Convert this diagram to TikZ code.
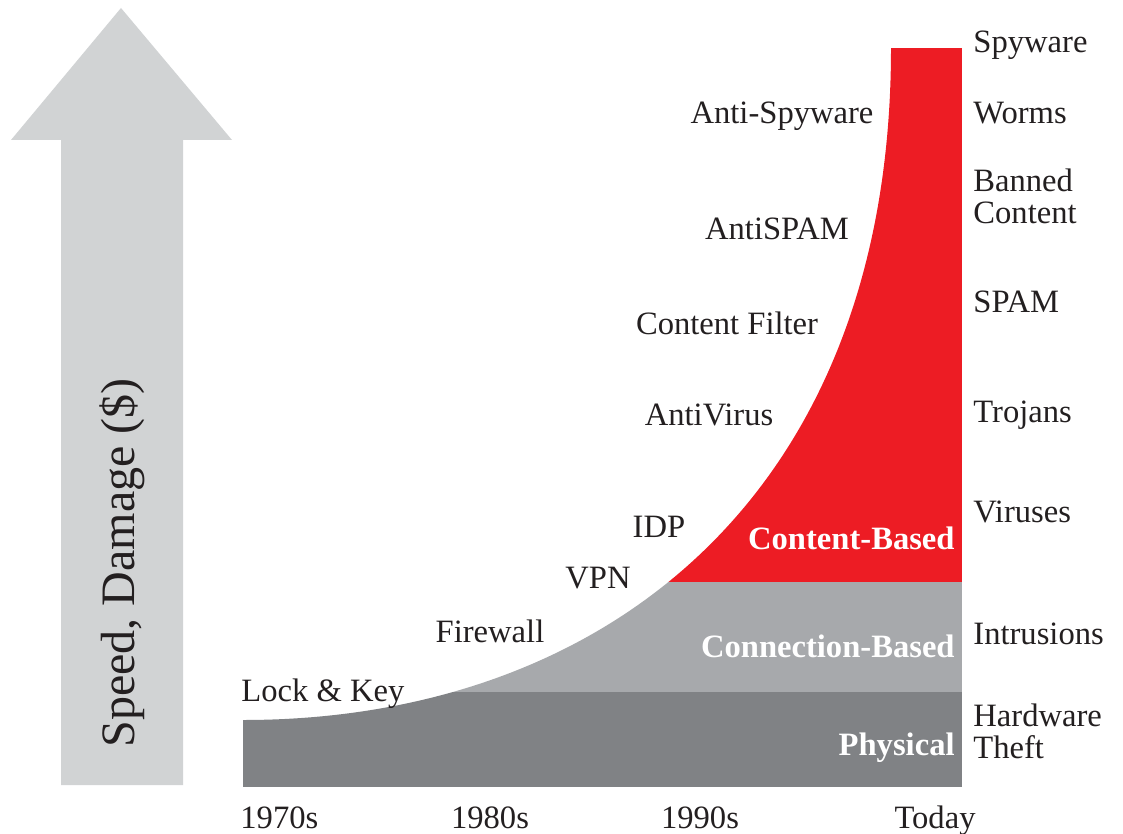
\documentclass[tikz,border=0pt]{standalone}
\usepackage{fontspec}
\setmainfont{Liberation Serif}
\usetikzlibrary{positioning}

\definecolor{threatred}{HTML}{ED1C24}
\definecolor{connectgray}{HTML}{A7A9AC}
\definecolor{physgray}{HTML}{808285}
\definecolor{arrowgray}{HTML}{D1D3D4}
\definecolor{inktext}{HTML}{231F20}

\begin{document}
\begin{tikzpicture}[x=0.5pt,y=-0.5pt,
		lbl/.style={text=inktext, font=\fontsize{16.3}{19}\selectfont, inner sep=0pt, text height=10.8pt, text depth=0pt},
		threat/.style={lbl, anchor=west},
		defense/.style={lbl, anchor=center},
		layer/.style={lbl, text=white, font=\bfseries\fontsize{16.3}{19}\selectfont, anchor=east}]
	\useasboundingbox (0,0) rectangle (1123,834);

	% axis arrow
	\fill[arrowgray] (61,785) -- (61,140) -- (11,140) -- (121,8) -- (232,140) -- (183,140) -- (183,785) -- cycle;
	\node[rotate=90, text=inktext, font=\fontsize{24}{24}\selectfont] (axis) at (122,563) {Speed, Damage (\$)};

	% layers under the curve
	\begin{scope}
		\clip (243,787) -- (243,720) .. controls (600,720) and (891,500) .. (891,48) -- (962,48) -- (962,787) -- cycle;
		\fill[threatred] (243,48) rectangle (962,582);
		\fill[connectgray] (243,582) rectangle (962,692);
		\fill[physgray] (243,692) rectangle (962,787);
	\end{scope}

	\node[layer] (content) at (955,539) {Content-Based};
	\node[layer] (connection) at (955,647) {Connection-Based};
	\node[layer] (physical) at (955,745) {Physical};

	% defenses along the curve
	\node[lbl, anchor=west] (lockkey) at (241,691) {Lock \& Key};
	\node[defense] (firewall) at (490,632) {Firewall};
	\node[defense] (vpn) at (598,578) {VPN};
	\node[defense] (idp) at (659,527) {IDP};
	\node[defense] (antivirus) at (709,415) {AntiVirus};
	\node[defense] (filter) at (727,324) {Content Filter};
	\node[defense] (antispam) at (777,229) {AntiSPAM};
	\node[defense] (antispy) at (782,113) {Anti-Spyware};

	% threats on the right
	\node[threat] (spyware) at (973,42) {Spyware};
	\node[threat] (worms) at (973,113) {Worms};
	\node[threat] (banned) at (973,181) {Banned};
	\node[threat, below=4.7pt of banned.south west, anchor=north west] (bannedb) {Content};
	\node[threat] (spam) at (973,302) {SPAM};
	\node[threat] (trojans) at (973,412) {Trojans};
	\node[threat] (viruses) at (973,512) {Viruses};
	\node[threat] (intrusions) at (973,634) {Intrusions};
	\node[threat] (hardware) at (973,716) {Hardware};
	\node[threat, below=4.7pt of hardware.south west, anchor=north west] (theft) {Theft};

	% time axis
	\node[lbl, anchor=west] (y70) at (240,818) {1970s};
	\node[defense] (y80) at (490,818) {1980s};
	\node[defense] (y90) at (700,818) {1990s};
	\node[defense] (today) at (935,818) {Today};
\end{tikzpicture}
\end{document}
